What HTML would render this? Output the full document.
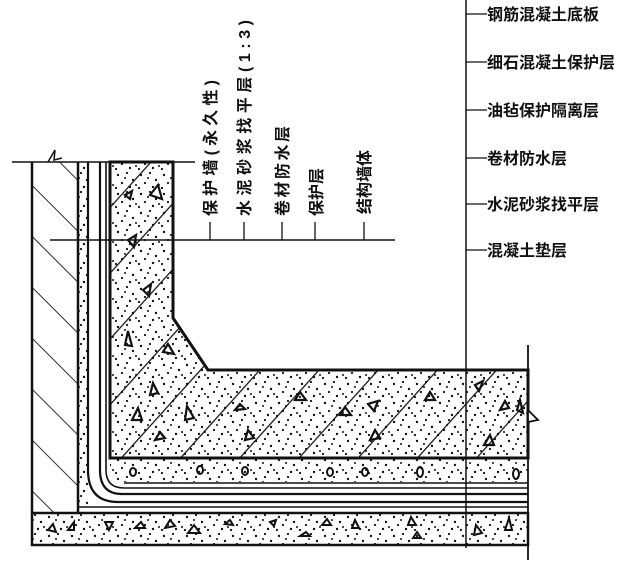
<!DOCTYPE html>
<html><head><meta charset="utf-8"><style>
html,body{margin:0;padding:0;background:#fff;}
svg{display:block;}
text{font-family:"Liberation Sans","Noto Sans CJK SC",sans-serif;fill:#111;}
</style></head><body>
<svg width="640" height="563" viewBox="0 0 640 563" xmlns="http://www.w3.org/2000/svg">
<defs>
<pattern id="dots" width="23" height="19" patternUnits="userSpaceOnUse">
<circle cx="3" cy="4" r="1.2" fill="#111"/><circle cx="12" cy="2" r="1.1" fill="#111"/>
<circle cx="18" cy="9" r="1.2" fill="#111"/><circle cx="7" cy="12" r="1.1" fill="#111"/>
<circle cx="15" cy="16" r="1.2" fill="#111"/><circle cx="21" cy="14" r="1" fill="#111"/>
<circle cx="1" cy="17" r="1.1" fill="#111"/><circle cx="10" cy="7" r="1" fill="#111"/>
</pattern>
<pattern id="diag" width="44" height="44" patternUnits="userSpaceOnUse" patternTransform="rotate(-48)">
<line x1="0" y1="0" x2="44" y2="0" stroke="#111" stroke-width="2.4"/>
</pattern>
<pattern id="hatch" width="36" height="36" patternUnits="userSpaceOnUse" patternTransform="rotate(45)">
<line x1="0" y1="0" x2="36" y2="0" stroke="#111" stroke-width="1.8"/>
</pattern>
<clipPath id="lc"><polygon points="110,162 173,162 173,318 208,370 528,370 528,458 110,458"/></clipPath>
</defs>

<rect x="32" y="162" width="46" height="351" fill="url(#hatch)"/>
<line x1="32" y1="162" x2="32" y2="513" stroke="#111" stroke-width="2.5"/>
<line x1="78" y1="162" x2="78" y2="513" stroke="#111" stroke-width="2.5"/>
<line x1="12" y1="162" x2="195" y2="162" stroke="#111" stroke-width="1.5"/>
<path d="M48,162 L55,150 L54,160 L62,158" fill="none" stroke="#111" stroke-width="1.5"/>
<rect x="79" y="162" width="9" height="345" fill="url(#dots)"/>
<path d="M88,162 V470 Q88,502 118,502 H528" fill="none" stroke="#111" stroke-width="2.2"/>
<path d="M100,162 V470 Q100,494 122,494 H528" fill="none" stroke="#111" stroke-width="2.2"/>
<path d="M106,162 V470 Q106,488 124,488 H528" fill="none" stroke="#111" stroke-width="1.6"/>
<line x1="124" y1="483" x2="528" y2="483" stroke="#111" stroke-width="1.5"/>
<line x1="78" y1="507" x2="528" y2="507" stroke="#111" stroke-width="1.5"/>
<rect x="110" y="458" width="418" height="24" fill="url(#dots)"/>
<g fill="none" stroke="#111" stroke-width="2">
<ellipse cx="133" cy="472" rx="3" ry="4"/><ellipse cx="200" cy="470" rx="3" ry="4"/><ellipse cx="245" cy="471" rx="3" ry="4"/>
<ellipse cx="330" cy="472" rx="3" ry="4"/><ellipse cx="365" cy="472" rx="3" ry="4"/><ellipse cx="420" cy="472" rx="3" ry="5"/><ellipse cx="516" cy="474" rx="3" ry="5"/>
</g>
<g clip-path="url(#lc)">
<rect x="100" y="150" width="440" height="320" fill="url(#dots)"/>
<rect x="100" y="150" width="440" height="320" fill="url(#diag)"/>
</g>
<polygon points="110,162 173,162 173,318 208,370 528,370 528,458 110,458" fill="none" stroke="#111" stroke-width="3"/>
<g fill="none" stroke="#111" stroke-width="2.2">
<path d="M125,195 l7,-4 l-2,8z"/><path d="M150,195 l8,-10 l4,14z"/><path d="M128,240 l8,-5 l-2,12z"/>
<path d="M143,290 l8,-6 l-2,12z"/><path d="M125,345 l3,-14 l4,15z"/><path d="M163,352 l5,-8 l6,10z"/>
<path d="M150,395 l3,-12 l5,10z"/><path d="M132,420 l6,-12 l4,12z"/><path d="M185,420 l2,-14 l7,12z"/>
<path d="M155,440 l5,-8 l5,6z"/><path d="M235,410 l5,-6 l5,5z"/><path d="M245,440 l3,-10 l6,8z"/>
<path d="M295,400 l5,-8 l6,8z"/><path d="M340,415 l5,-8 l6,8z"/><path d="M368,404 l10,-3 l-4,10z"/>
<path d="M370,440 l5,-10 l5,8z"/><path d="M425,400 l5,-8 l5,8z"/><path d="M475,385 l8,-4 l-4,10z"/>
<path d="M500,410 l5,-9 l4,7z"/><path d="M484,445 l6,-10 l4,10z"/><path d="M520,400 l-3,10 l6,3z"/>
</g>
<path d="M528,410 l10,10 l-10,2" fill="#fff" stroke="#111" stroke-width="1.8"/>
<rect x="32" y="513" width="496" height="32" fill="url(#dots)"/>
<rect x="32" y="513" width="496" height="32" fill="none" stroke="#111" stroke-width="2.5"/>
<g fill="none" stroke="#111" stroke-width="2">
<path d="M48,530 l5,-6 l3,8z"/><path d="M68,530 l6,-8 l0,8z"/><path d="M105,522 h8 l-4,8z"/><path d="M135,528 l6,-6 l4,6z"/>
<path d="M165,528 l5,-8 l5,6z"/><path d="M188,533 l6,-8 l6,8z"/><path d="M225,524 l5,-4 l3,5z"/><path d="M270,522 l6,-2 l-2,6z"/>
<path d="M300,536 l6,-4 l4,4z"/><path d="M322,525 l5,-6 l4,6z"/><path d="M352,528 l3,-8 l4,8z"/><path d="M408,525 l3,-8 l5,8z"/>
<path d="M413,538 l4,-6 l4,6z"/><path d="M474,535 l2,-10 l6,8z"/><path d="M505,530 l4,-12 l3,12z"/>
</g>
<line x1="466" y1="0" x2="466" y2="548" stroke="#111" stroke-width="1.5"/>
<line x1="528" y1="345" x2="528" y2="560" stroke="#111" stroke-width="1.8"/>
<line x1="50" y1="240" x2="395" y2="240" stroke="#111" stroke-width="1.5"/>
<g stroke="#111" stroke-width="1.3">
<line x1="210" y1="222" x2="210" y2="240"/><line x1="244" y1="222" x2="244" y2="240"/><line x1="282" y1="222" x2="282" y2="240"/>
<line x1="315" y1="222" x2="315" y2="240"/><line x1="364" y1="222" x2="364" y2="240"/>
<line x1="466" y1="14" x2="487" y2="14"/><line x1="466" y1="62" x2="487" y2="62"/><line x1="466" y1="110" x2="487" y2="110"/>
<line x1="466" y1="158" x2="487" y2="158"/><line x1="466" y1="204" x2="487" y2="204"/><line x1="466" y1="250" x2="487" y2="250"/>
</g>
<g font-size="16" font-weight="bold">
<text x="487" y="20">钢筋混凝土底板</text>
<text x="487" y="68">细石混凝土保护层</text>
<text x="487" y="116">油毡保护隔离层</text>
<text x="487" y="164">卷材防水层</text>
<text x="487" y="210">水泥砂浆找平层</text>
<text x="487" y="256">混凝土垫层</text>
</g>
<g font-size="16" font-weight="bold">
<text transform="translate(216,216) rotate(-90)" textLength="136">保护墙(永久性)</text>
<text transform="translate(250,216) rotate(-90)" textLength="196">水泥砂浆找平层(1:3)</text>
<text transform="translate(288,216) rotate(-90)" textLength="90">卷材防水层</text>
<text transform="translate(322,216) rotate(-90)">保护层</text>
<text transform="translate(370,214) rotate(-90)">结构墙体</text>
</g>
</svg>
</body></html>
